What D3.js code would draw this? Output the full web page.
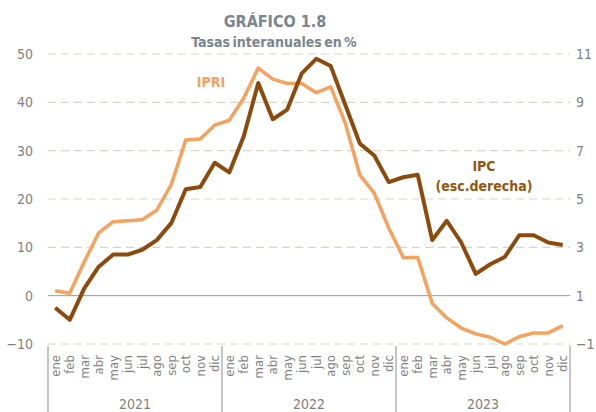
<!DOCTYPE html>
<html><head><meta charset="utf-8">
<script src="https://cdn.jsdelivr.net/npm/d3@7"></script>
<style>
html,body{margin:0;padding:0;background:#fff;}
svg{display:block;}
</style></head>
<body>
<svg id="chart" width="596" height="412"></svg>
<script>
const years = ["2021","2022","2023"];
const months = ["ene","feb","mar","abr","may","jun","jul","ago","sep","oct","nov","dic"];
const ipri = [1.0, 0.5, 7.0, 13.0, 15.3, 15.5, 15.7, 17.7, 23.0, 32.2, 32.4, 35.3,
              36.3, 40.9, 47.1, 44.8, 43.9, 43.9, 42.0, 43.2, 35.7, 25.0, 21.2, 14.0,
              7.9, 7.9, -1.6, -4.6, -6.7, -7.9, -8.6, -10.0, -8.5, -7.7, -7.7, -6.2];
const ipc = [0.5, 0.0, 1.3, 2.2, 2.7, 2.7, 2.9, 3.3, 4.0, 5.4, 5.5, 6.5,
             6.1, 7.6, 9.8, 8.3, 8.7, 10.2, 10.8, 10.5, 8.9, 7.3, 6.8, 5.7,
             5.9, 6.0, 3.3, 4.1, 3.2, 1.9, 2.3, 2.6, 3.5, 3.5, 3.2, 3.1];
const leftTicks = [-10, 0, 10, 20, 30, 40, 50];
const rightTicks = [-1, 1, 3, 5, 7, 9, 11];

const keys = [];
years.forEach(y => months.forEach(m => keys.push(y + "-" + m)));

const svg = d3.select("#chart");
const font = "'DejaVu Sans Condensed', 'DejaVu Sans', sans-serif";
const L = 48, R = 570, T = 54, B = 344;

const x = d3.scaleBand().domain(keys).range([L, R]);
const yL = d3.scaleLinear().domain([-10, 50]).range([B, T]);
const yR = d3.scaleLinear().domain([-1, 11]).range([B, T]);

// title
svg.append("text").attr("x", 275).attr("y", 27).attr("text-anchor", "middle")
  .attr("font-family", font).attr("font-weight", "bold").attr("font-size", 16)
  .attr("fill", "#7b8590").text("GRÁFICO 1.8");
svg.append("text").attr("x", 274).attr("y", 47).attr("text-anchor", "middle")
  .attr("font-family", font).attr("font-weight", "bold").attr("font-size", 14)
  .attr("word-spacing", -2)
  .attr("fill", "#7b8590").text("Tasas interanuales en %");

// gridlines
svg.append("g").selectAll("line").data(leftTicks.filter(d => d !== 0)).join("line")
  .attr("x1", L).attr("x2", R)
  .attr("y1", d => yL(d)).attr("y2", d => yL(d))
  .attr("stroke", "#d9d5c3").attr("stroke-width", 1.2).attr("stroke-dasharray", "8,5");
svg.append("line").attr("x1", L).attr("x2", R).attr("y1", yL(0)).attr("y2", yL(0))
  .attr("stroke", "#9a9a9a").attr("stroke-width", 1);

// left axis labels
const axL = d3.axisLeft(yL).tickValues(leftTicks).tickSize(0).tickPadding(0);
const gL = svg.append("g").attr("transform", `translate(33,0)`).call(axL);
gL.select(".domain").remove();
gL.selectAll("text").attr("font-family", font).attr("font-size", 14).attr("fill", "#7f7f7f");

// right axis labels
const axR = d3.axisRight(yR).tickValues(rightTicks).tickSize(0).tickPadding(0);
const gR = svg.append("g").attr("transform", `translate(576,0)`).call(axR);
gR.select(".domain").remove();
gR.selectAll("text").attr("font-family", font).attr("font-size", 14).attr("fill", "#7f7f7f");

// year separators
const sepX = [L].concat(years.map((y, i) => x(y + "-dic") + x.bandwidth()));
svg.append("g").selectAll("line").data(sepX).join("line")
  .attr("x1", d => d).attr("x2", d => d).attr("y1", B + 2).attr("y2", 412)
  .attr("stroke", "#8c8c8c").attr("stroke-width", 1);

// month labels
svg.append("g").selectAll("text").data(keys).join("text")
  .attr("transform", d => `translate(${x(d) + x.bandwidth() / 2 + 4.5},355) rotate(-90)`)
  .attr("text-anchor", "end")
  .attr("font-family", font).attr("font-size", 13).attr("fill", "#7f7f7f")
  .text(d => d.split("-")[1]);

// year labels
svg.append("g").selectAll("text").data(years).join("text")
  .attr("x", y => (x(y + "-ene") + x(y + "-dic") + x.bandwidth()) / 2)
  .attr("y", 409).attr("text-anchor", "middle")
  .attr("font-family", font).attr("font-size", 14).attr("fill", "#7f7f7f")
  .text(y => y);

// lines
const cx = (d, i) => x(keys[i]) + x.bandwidth() / 2;
svg.append("path").datum(ipri)
  .attr("d", d3.line().x(cx).y(d => yL(d)))
  .attr("fill", "none").attr("stroke", "#f6a25e").attr("stroke-width", 3.5)
  .attr("stroke-linejoin", "round");
svg.append("path").datum(ipc)
  .attr("d", d3.line().x(cx).y(d => yR(d)))
  .attr("fill", "none").attr("stroke", "#8c4a0c").attr("stroke-width", 4)
  .attr("stroke-linejoin", "round");

// series labels
svg.append("text").attr("x", 211).attr("y", 87).attr("text-anchor", "middle")
  .attr("font-family", font).attr("font-weight", "bold").attr("font-size", 14)
  .attr("fill", "#f6a25e").text("IPRI");
svg.append("text").attr("x", 484).attr("y", 171).attr("text-anchor", "middle")
  .attr("font-family", font).attr("font-weight", "bold").attr("font-size", 14)
  .attr("fill", "#94560f").text("IPC");
svg.append("text").attr("x", 484).attr("y", 191).attr("text-anchor", "middle")
  .attr("font-family", font).attr("font-weight", "bold").attr("font-size", 14)
  .attr("fill", "#94560f").text("(esc.derecha)");
</script>
</body></html>
